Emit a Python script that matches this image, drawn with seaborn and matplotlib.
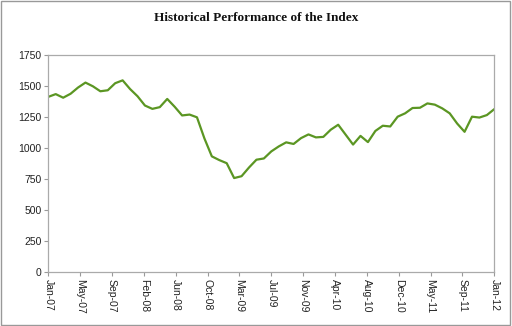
import numpy as np
import pandas as pd
import matplotlib
matplotlib.use("Agg")
import matplotlib.pyplot as plt
import seaborn as sns
from matplotlib.patches import Rectangle

# Monthly index values, Jan-07 .. Jan-12 (61 months)
month_index = list(range(61))
index_values = [
    1415, 1437, 1408, 1440, 1490, 1530, 1500, 1460, 1468, 1525,
    1548, 1478, 1420, 1345, 1318, 1332, 1398, 1335, 1265, 1272,
    1250, 1080, 935, 905, 880, 760, 775, 845, 908, 918,
    975, 1015, 1048, 1035, 1082, 1112, 1088, 1092, 1150, 1190,
    1110, 1030, 1100, 1050, 1140, 1182, 1176, 1255, 1282, 1325,
    1327, 1362, 1352, 1322, 1282, 1200, 1133, 1255, 1248, 1268,
    1316,
]
tick_labels = ["Jan-07", "May-07", "Sep-07", "Feb-08", "Jun-08", "Oct-08",
               "Mar-09", "Jul-09", "Nov-09", "Apr-10", "Aug-10", "Dec-10",
               "May-11", "Sep-11", "Jan-12"]
y_ticks = [0, 250, 500, 750, 1000, 1250, 1500, 1750]

df = pd.DataFrame({"month": month_index, "value": index_values})

sns.set_theme(style="white")
plt.rcParams["font.family"] = ["Liberation Sans", "DejaVu Sans"]

fig = plt.figure(figsize=(5.12, 3.26), dpi=100)
ax = fig.add_axes([48.3 / 512, 1 - 272.3 / 326, (494.3 - 48.3) / 512, (272.3 - 55.3) / 326])

sns.lineplot(data=df, x="month", y="value", ax=ax, color="#5b9623",
             linewidth=1.6, solid_joinstyle="round", solid_capstyle="round")

ax.set_xlim(0, 60)
ax.set_ylim(0, 1750)
ax.set_yticks(y_ticks)
ax.set_yticklabels([str(v) for v in y_ticks], fontsize=7.5, color="#222222")
xt = np.linspace(0, 60, len(tick_labels))
ax.set_xticks(xt)
ax.set_xticklabels(tick_labels, rotation=-90, fontsize=7.5, color="#222222",
                   va="top", ha="center")
ax.set_xlabel("")
ax.set_ylabel("")
ax.tick_params(axis="both", which="major", direction="out", length=3,
               width=0.8, color="#999999", pad=2, bottom=True, left=True)
for s in ax.spines.values():
    s.set_color("#aaaaaa")
    s.set_linewidth(0.9)
ax.grid(False)

fig.text(0.5, 1 - 18 / 326, "Historical Performance of the Index",
         ha="center", va="center", fontsize=9.5, fontweight="bold",
         family=["Liberation Serif", "DejaVu Serif"], color="#111111")

fig.patches.append(Rectangle((0.002, 0.003), 0.995, 0.994, transform=fig.transFigure,
                             fill=False, edgecolor="#999999", linewidth=1.0))

fig.savefig("out.png", dpi=100)
